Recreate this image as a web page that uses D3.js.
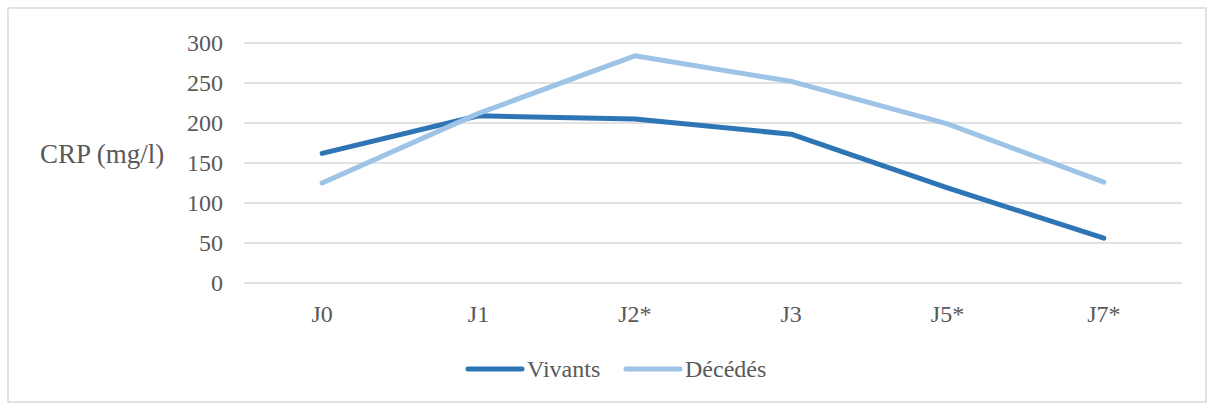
<!DOCTYPE html>
<html><head><meta charset="utf-8">
<script src="https://cdn.jsdelivr.net/npm/d3@7/dist/d3.min.js"></script>
<style>body{margin:0;background:#fff}svg{display:block}text{font-family:"Liberation Serif","Times New Roman",serif;fill:#595959}</style>
</head><body><svg id="c" width="1214" height="410"></svg>
<script>
const categories = ["J0","J1","J2*","J3","J5*","J7*"];
const vivants = [162,209,205,186,119,56];
const decedes = [125,212,284,252,199,126];
const yTicks = [0,50,100,150,200,250,300];
const seriesNames = ["Vivants","Décédés"];
const colors = ["#2E75B6","#9DC3E6"];

const svg = d3.select("#c");
svg.append("rect").attr("x",8).attr("y",8).attr("width",1198).attr("height",394)
  .attr("fill","#fff").attr("stroke","#d9d9d9").attr("stroke-width",1.5);

const x = d3.scaleBand().domain(categories).range([244,1182]);
const y = d3.scaleLinear().domain([0,300]).range([283,43]);

const grid = svg.append("g");
grid.selectAll("line").data(yTicks).join("line")
  .attr("x1",244).attr("x2",1182).attr("y1",d=>y(d)).attr("y2",d=>y(d))
  .attr("stroke","#d9d9d9").attr("stroke-width",1.5);

const yAxis = svg.append("g").attr("transform","translate(244,0)")
  .call(d3.axisLeft(y).tickValues(yTicks).tickSize(0).tickPadding(21));
yAxis.select(".domain").remove();
yAxis.selectAll("text").style("font-size","24px").style("font-family","Liberation Serif").attr("fill","#595959");

const xAxis = svg.append("g").attr("transform","translate(0,283)")
  .call(d3.axisBottom(x).tickSize(0).tickPadding(22));
xAxis.select(".domain").remove();
xAxis.selectAll("text").style("font-size","24px").style("font-family","Liberation Serif").attr("fill","#595959");

svg.append("text").attr("x",40).attr("y",163).style("font-size","27px").style("font-family","Liberation Serif").text("CRP (mg/l)");

const line = d3.line().x((d,i)=>x(categories[i])+x.bandwidth()/2).y(d=>y(d));
[vivants,decedes].forEach((s,k)=>{
  svg.append("path").datum(s).attr("d",line).attr("fill","none")
    .attr("stroke",colors[k]).attr("stroke-width",5).attr("stroke-linecap","round").attr("stroke-linejoin","round");
});

const legX = [468,626];
seriesNames.forEach((n,k)=>{
  svg.append("line").attr("x1",legX[k]).attr("x2",legX[k]+54).attr("y1",369).attr("y2",369)
    .attr("stroke",colors[k]).attr("stroke-width",5).attr("stroke-linecap","round");
  svg.append("text").attr("x",legX[k]+59).attr("y",377).style("font-size","24px").style("font-family","Liberation Serif").text(n);
});
</script></body></html>
